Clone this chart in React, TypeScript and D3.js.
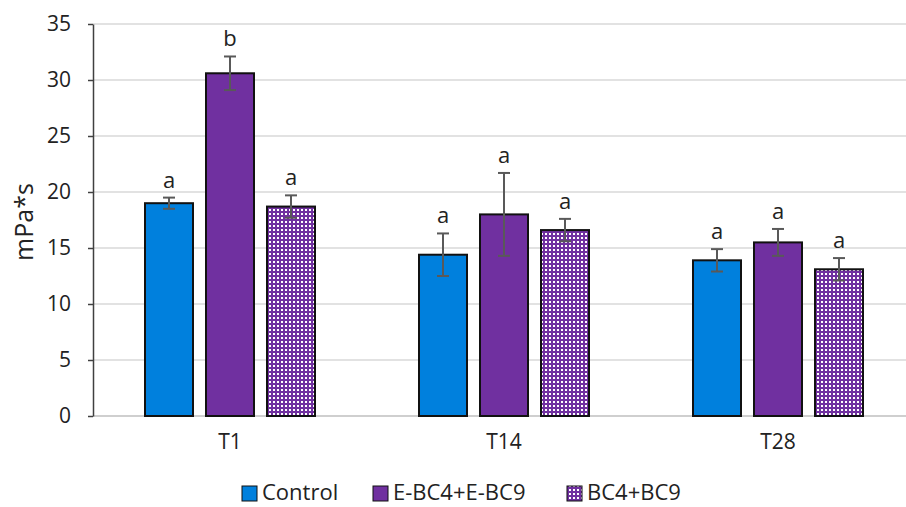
import React, { useRef, useEffect } from 'react';
import * as d3 from 'd3';

const groups = ['T1', 'T14', 'T28'];
const seriesNames = ['Control', 'E-BC4+E-BC9', 'BC4+BC9'];
const seriesColors = ['#0080DD', '#7030A0', '#7030A0'];
const control = [19.0, 14.4, 13.9];
const eBc = [30.6, 18.0, 15.5];
const bc = [18.7, 16.6, 13.1];
const controlErr = [0.5, 1.9, 1.0];
const eBcErr = [1.5, 3.7, 1.2];
const bcErr = [1.0, 1.0, 1.0];
const controlLetters = ['a', 'a', 'a'];
const eBcLetters = ['b', 'a', 'a'];
const bcLetters = ['a', 'a', 'a'];
const yTicks = [0, 5, 10, 15, 20, 25, 30, 35];

const W = 906;
const H = 507;
const FONT = '"Open Sans", "Noto Sans", sans-serif';

export default function App() {
  const svgRef = useRef<SVGSVGElement>(null);

  useEffect(() => {
    const svg = d3.select(svgRef.current);
    svg.selectAll('*').remove();

    const values = [control, eBc, bc];
    const errs = [controlErr, eBcErr, bcErr];
    const letters = [controlLetters, eBcLetters, bcLetters];

    const left = 93;
    const top = 24;
    const bottom = 416;

    const x = d3.scaleBand<string>().domain(groups).range([left, left + 822]).padding(0);
    // bars 48px wide with 13px gaps
    const inner = d3.scaleBand<string>().domain(seriesNames).range([0, 170]).paddingInner(13 / 61);
    const y = d3.scaleLinear().domain([0, 35]).range([bottom, top]);

    const defs = svg.append('defs');
    const pat = defs.append('pattern')
      .attr('id', 'dots')
      .attr('patternUnits', 'userSpaceOnUse')
      .attr('width', 4)
      .attr('height', 4);
    pat.append('rect').attr('width', 4).attr('height', 4).attr('fill', '#7030A0');
    pat.append('rect').attr('x', 1).attr('y', 1).attr('width', 2).attr('height', 2).attr('fill', '#fff');

    // gridlines
    svg.append('g')
      .selectAll('line')
      .data(yTicks.filter(t => t > 0))
      .join('line')
      .attr('x1', left)
      .attr('x2', W)
      .attr('y1', d => y(d))
      .attr('y2', d => y(d))
      .attr('stroke', '#d9d9d9')
      .attr('stroke-width', 1.5);

    // baseline
    svg.append('line')
      .attr('x1', left).attr('x2', W)
      .attr('y1', y(0)).attr('y2', y(0))
      .attr('stroke', '#bfbfbf').attr('stroke-width', 1.5);

    // y axis
    const yAxis = svg.append('g')
      .attr('transform', `translate(${left},0)`)
      .call(d3.axisLeft(y).tickValues(yTicks).tickSize(5).tickSizeOuter(0));
    yAxis.select('.domain').attr('stroke', '#404040').attr('stroke-width', 1.5);
    yAxis.selectAll('.tick line').attr('stroke', '#404040').attr('stroke-width', 1.5)
      .attr('x1', -5).attr('x2', 0);
    yAxis.selectAll('.tick text')
      .attr('x', -22)
      .attr('font-family', FONT)
      .attr('font-size', 21)
      .attr('fill', '#222');

    svg.append('text')
      .attr('transform', `translate(33,222) rotate(-90)`)
      .attr('text-anchor', 'middle')
      .attr('font-family', FONT)
      .attr('font-size', 25)
      .attr('fill', '#222')
      .text('mPa*s');

    // x labels
    svg.append('g')
      .selectAll('text')
      .data(groups)
      .join('text')
      .attr('x', d => x(d)! + x.bandwidth() / 2)
      .attr('y', 449)
      .attr('text-anchor', 'middle')
      .attr('font-family', FONT)
      .attr('font-size', 21)
      .attr('fill', '#222')
      .text(d => d);

    const offset = (x.bandwidth() - 170) / 2;

    seriesNames.forEach((name, si) => {
      const g = svg.append('g');
      const fill = si === 2 ? 'url(#dots)' : seriesColors[si];
      const bx = (gi: number) => x(groups[gi])! + offset + inner(name)!;
      const bw = inner.bandwidth();

      g.selectAll('rect')
        .data(values[si])
        .join('rect')
        .attr('x', (_, i) => bx(i))
        .attr('y', d => y(d))
        .attr('width', bw)
        .attr('height', d => y(0) - y(d))
        .attr('fill', fill)
        .attr('stroke', '#111')
        .attr('stroke-width', 2);

      values[si].forEach((v, i) => {
        const cx = bx(i) + bw / 2;
        const e = errs[si][i];
        const eg = g.append('g').attr('stroke', '#595959').attr('stroke-width', 2);
        eg.append('line').attr('x1', cx).attr('x2', cx).attr('y1', y(v + e)).attr('y2', y(v - e));
        eg.append('line').attr('x1', cx - 6).attr('x2', cx + 6).attr('y1', y(v + e)).attr('y2', y(v + e));
        eg.append('line').attr('x1', cx - 6).attr('x2', cx + 6).attr('y1', y(v - e)).attr('y2', y(v - e));
        g.append('text')
          .attr('x', cx)
          .attr('y', y(v + e) - 10)
          .attr('text-anchor', 'middle')
          .attr('font-family', FONT)
          .attr('font-size', 22)
          .attr('fill', '#222')
          .text(letters[si][i]);
      });
    });

    // legend
    const legendX = [242, 373, 567];
    const leg = svg.append('g');
    seriesNames.forEach((name, si) => {
      leg.append('rect')
        .attr('x', legendX[si])
        .attr('y', 486)
        .attr('width', 15)
        .attr('height', 15)
        .attr('fill', si === 2 ? 'url(#dots)' : seriesColors[si])
        .attr('stroke', '#111')
        .attr('stroke-width', 1);
      leg.append('text')
        .attr('x', legendX[si] + 20)
        .attr('y', 500)
        .attr('font-family', FONT)
        .attr('font-size', 22)
        .attr('fill', '#222')
        .text(name);
    });
  }, []);

  return (
    <svg ref={svgRef} width={W} height={H} style={{ position: 'absolute', left: 0, top: 0, background: '#fff' }} />
  );
}
